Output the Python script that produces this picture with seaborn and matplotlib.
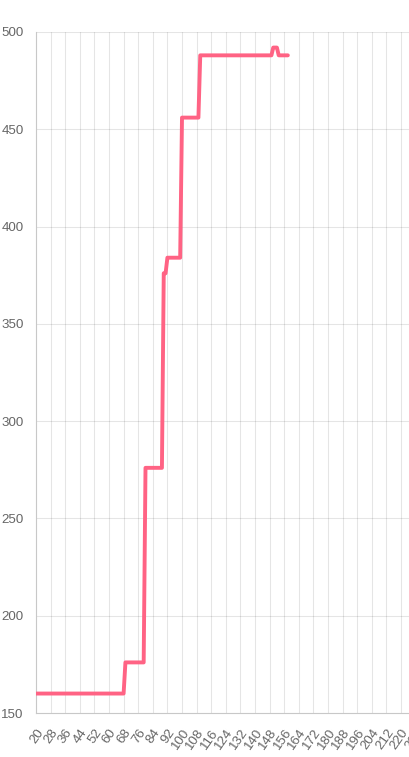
import matplotlib
matplotlib.use("Agg")
import matplotlib.pyplot as plt
import numpy as np
import pandas as pd
import seaborn as sns

# break points of the step line
x_vals = [20, 68, 69, 79, 80, 89, 90, 91, 92, 99, 100, 109, 110, 149, 150, 152, 153, 158]
y_vals = [160, 160, 176, 176, 276, 276, 376, 376, 384, 384, 456, 456, 488, 488, 492, 492, 488, 488]

x_ticks = list(range(20, 229, 8))
y_ticks = [150, 200, 250, 300, 350, 400, 450, 500]

line_color = "#ff6384"

sns.set_style("white")
plt.rcParams["font.family"] = ["Liberation Sans", "DejaVu Sans"]

fig = plt.figure(figsize=(4.10, 7.57), dpi=100)
ax = fig.add_axes([36 / 410, 44 / 757, (415.6 - 36) / 410, 681 / 757])

df = pd.DataFrame({"x": x_vals, "y": y_vals})
sns.lineplot(data=df, x="x", y="y", ax=ax, color=line_color, linewidth=2.8,
             sort=False, zorder=3)

ax.set_xlim(20, 228)
ax.set_ylim(150, 500)
ax.set_xticks(x_ticks)
ax.set_yticks(y_ticks)
ax.set_xticklabels([str(t) for t in x_ticks], rotation=55, ha="right",
                   rotation_mode="anchor")
ax.set_xlabel("")
ax.set_ylabel("")

ax.grid(True, color="#000000", alpha=0.1, linewidth=0.8)
ax.tick_params(axis="both", colors="#dddddd", labelcolor="#666666",
               labelsize=9.6, length=8, width=0.8, direction="out", pad=2)
ax.tick_params(axis="y", pad=1)

for side in ["top", "right"]:
    ax.spines[side].set_visible(False)
for side in ["left", "bottom"]:
    ax.spines[side].set_color("#c8c8c8")
    ax.spines[side].set_linewidth(0.8)

fig.savefig("out.png", dpi=100)
